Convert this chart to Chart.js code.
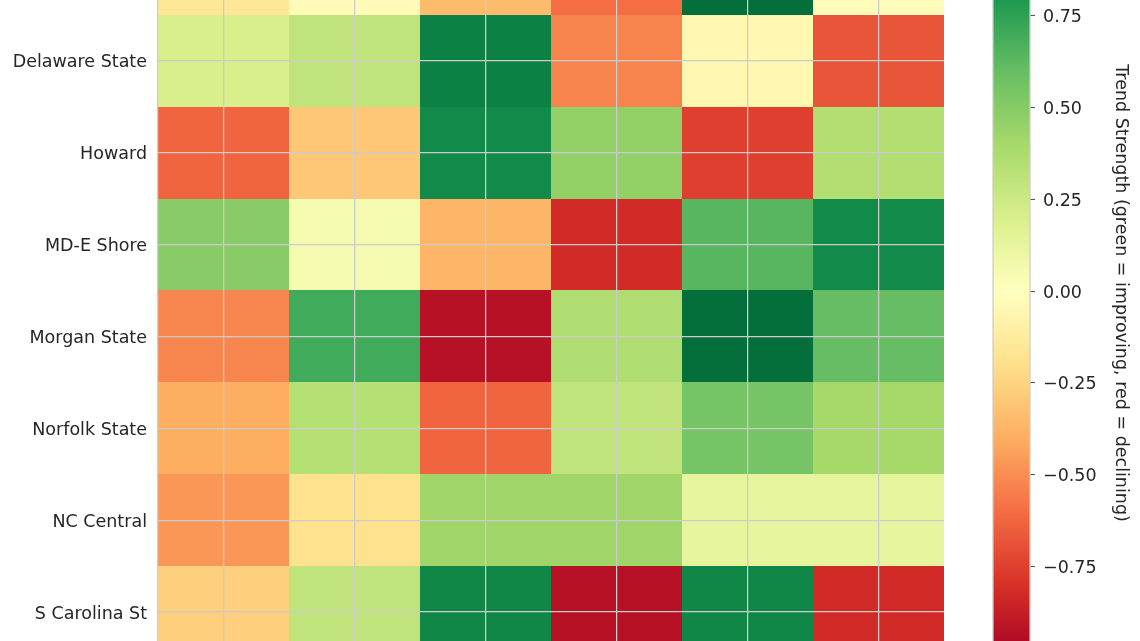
<!DOCTYPE html>
<html>
<head>
<meta charset="utf-8">
<script src="https://cdn.jsdelivr.net/npm/chart.js@4.4.0/dist/chart.umd.min.js"></script>
<style>
  html, body { margin: 0; padding: 0; background: #fff; }
  #wrap { position: relative; width: 1140px; height: 641px; overflow: hidden; }
  #wrap canvas { position: absolute; left: 0; top: 0; }
</style>
</head>
<body>
<div id="wrap">
  <canvas id="heatmap" width="1140" height="641"></canvas>
  <canvas id="colorbar" width="1140" height="641"></canvas>
</div>
<script>
// Equipos (filas) de arriba a abajo
const equipos = ['Coppin State', 'Delaware State', 'Howard', 'MD-E Shore', 'Morgan State', 'Norfolk State', 'NC Central', 'S Carolina St'];
// Columnas (sus etiquetas quedan fuera del recorte)
const columnas = ['Métrica 1', 'Métrica 2', 'Métrica 3', 'Métrica 4', 'Métrica 5', 'Métrica 6'];

// Fuerza de la tendencia por equipo (una fila por equipo)
const coppin    = [-0.15, -0.03, -0.35, -0.60,  0.97, -0.02];
const delaware  = [ 0.20,  0.30,  0.90, -0.53, -0.05, -0.68];
const howard    = [-0.63, -0.30,  0.86,  0.46, -0.75,  0.35];
const mdeShore  = [ 0.49,  0.06, -0.37, -0.82,  0.64,  0.86];
const morgan    = [-0.52,  0.70, -0.93,  0.36,  0.97,  0.60];
const norfolk   = [-0.40,  0.34, -0.63,  0.30,  0.55,  0.40];
const ncCentral = [-0.47, -0.19,  0.42,  0.42,  0.13,  0.13];
const scState   = [-0.27,  0.30,  0.87, -0.93,  0.87, -0.82];
const valores = [coppin, delaware, howard, mdeShore, morgan, norfolk, ncCentral, scState];

// Marcas de la barra de color
const ticksBarra = [-0.75, -0.5, -0.25, 0, 0.25, 0.5, 0.75];
const escalaMin = -1;
const escalaMax = 1;
const tituloBarra = 'Trend Strength (green = improving, red = declining)';

// Paleta RdYlGn (11 pasos)
const RDYLGN = ['#a50026', '#d73027', '#f46d43', '#fdae61', '#fee08b', '#ffffbf',
                '#d9ef8b', '#a6d96a', '#66bd63', '#1a9850', '#006837'];

function hexRgb(h) {
  return [parseInt(h.slice(1, 3), 16), parseInt(h.slice(3, 5), 16), parseInt(h.slice(5, 7), 16)];
}

function colorRdYlGn(v) {
  let t = (v - escalaMin) / (escalaMax - escalaMin);
  t = Math.max(0, Math.min(1, t)) * (RDYLGN.length - 1);
  const k = Math.min(Math.floor(t), RDYLGN.length - 2);
  const f = t - k;
  const a = hexRgb(RDYLGN[k]), b = hexRgb(RDYLGN[k + 1]);
  const c = a.map((x, i) => Math.round(x + (b[i] - x) * f));
  return `rgb(${c[0]}, ${c[1]}, ${c[2]})`;
}

const FUENTE = { family: 'DejaVu Sans', size: 17.5 };
const TEXTO = '#262626';
const REJILLA = '#cccccc';

// Quita el margen extra que Chart.js reserva para las etiquetas de los extremos
function sinRelleno(s) {
  s.paddingTop = 0;
  s.paddingBottom = 0;
  s.paddingLeft = 0;
  s.paddingRight = 0;
}

/**
 * Dibuja las celdas del mapa de calor usando las escalas del gráfico
 */
const celdasPlugin = {
  id: 'celdas',
  beforeDatasetsDraw(chart) {
    const { ctx, chartArea, scales: { x, y } } = chart;
    ctx.save();
    ctx.beginPath();
    ctx.rect(chartArea.left, chartArea.top, chartArea.width, chartArea.height);
    ctx.clip();
    valores.forEach((fila, i) => {
      const ya = Math.round(y.getPixelForValue(i - 0.5));
      const yb = Math.round(y.getPixelForValue(i + 0.5));
      fila.forEach((v, j) => {
        const xa = Math.round(x.getPixelForValue(j - 0.5));
        const xb = Math.round(x.getPixelForValue(j + 0.5));
        ctx.fillStyle = colorRdYlGn(v);
        ctx.fillRect(xa, Math.min(ya, yb), xb - xa, Math.abs(yb - ya));
      });
    });
    ctx.restore();
  }
};

new Chart(document.getElementById('heatmap'), {
  type: 'scatter',
  data: { datasets: [] },
  options: {
    responsive: false,
    animation: false,
    devicePixelRatio: 1,
    layout: { padding: { left: 0, right: 196, top: 0, bottom: 0 } },
    plugins: { legend: { display: false }, tooltip: { enabled: false } },
    scales: {
      x: {
        type: 'linear',
        min: -0.5,
        max: columnas.length - 0.5,
        afterBuildTicks: s => { s.ticks = columnas.map((c, j) => ({ value: j })); },
        afterFit: s => { s.height = 0; sinRelleno(s); },
        ticks: { display: false },
        grid: { color: REJILLA, lineWidth: 1.25, drawTicks: false, z: 1 },
        border: { display: false }
      },
      y: {
        type: 'linear',
        reverse: true,
        min: 0.34,
        max: 7.315,
        afterBuildTicks: s => {
          s.ticks = equipos.map((e, i) => ({ value: i })).filter(t => t.value >= s.min && t.value <= s.max);
        },
        afterFit: s => { s.width = 158; sinRelleno(s); },
        ticks: { callback: v => equipos[v], color: TEXTO, font: FUENTE, padding: 11, labelOffset: 2 },
        grid: { color: REJILLA, lineWidth: 1.25, drawTicks: false, z: 1 },
        border: { display: true, color: REJILLA, width: 1.25, z: 2 }
      }
    }
  },
  plugins: [celdasPlugin]
});

/**
 * Pinta el degradado de la barra de color con la escala del eje
 * y el título vertical centrado sobre la barra completa
 */
const barraPlugin = {
  id: 'barraColor',
  beforeDatasetsDraw(chart) {
    const { ctx, chartArea: a, scales: { y } } = chart;
    const g = ctx.createLinearGradient(0, y.getPixelForValue(escalaMin), 0, y.getPixelForValue(escalaMax));
    RDYLGN.forEach((c, k) => g.addColorStop(k / (RDYLGN.length - 1), c));
    ctx.save();
    ctx.fillStyle = g;
    ctx.fillRect(a.left, a.top, a.width, a.height);
    ctx.strokeStyle = REJILLA;
    ctx.lineWidth = 1.25;
    ctx.strokeRect(a.left, a.top - 2, a.width, a.height + 4);
    ctx.restore();
  },
  afterDraw(chart) {
    const { ctx, scales: { y } } = chart;
    const centro = y.getPixelForValue((escalaMin + escalaMax) / 2) + 2;
    ctx.save();
    ctx.translate(1121, centro);
    ctx.rotate(Math.PI / 2);
    ctx.font = `${FUENTE.size}px "${FUENTE.family}"`;
    ctx.fillStyle = TEXTO;
    ctx.textAlign = 'center';
    ctx.textBaseline = 'middle';
    ctx.fillText(tituloBarra, 0, 0);
    ctx.restore();
  }
};

new Chart(document.getElementById('colorbar'), {
  type: 'scatter',
  data: { datasets: [] },
  options: {
    responsive: false,
    animation: false,
    devicePixelRatio: 1,
    layout: { padding: { left: 993, right: 0, top: 0, bottom: 0 } },
    plugins: { legend: { display: false }, tooltip: { enabled: false } },
    scales: {
      x: { display: false },
      y: {
        type: 'linear',
        position: 'right',
        min: -0.952,
        max: 0.7916,
        afterBuildTicks: s => { s.ticks = ticksBarra.map(v => ({ value: v })); },
        afterFit: s => { s.width = 110; sinRelleno(s); },
        ticks: {
          callback: v => (v < 0 ? '\u2212' : '') + Math.abs(v).toFixed(2),
          color: TEXTO,
          font: FUENTE,
          padding: 8,
          labelOffset: 2
        },
        grid: { drawOnChartArea: false, tickLength: 5, tickColor: '#555555', lineWidth: 1 },
        border: { display: false }
      }
    }
  },
  plugins: [barraPlugin]
});
</script>
</body>
</html>
